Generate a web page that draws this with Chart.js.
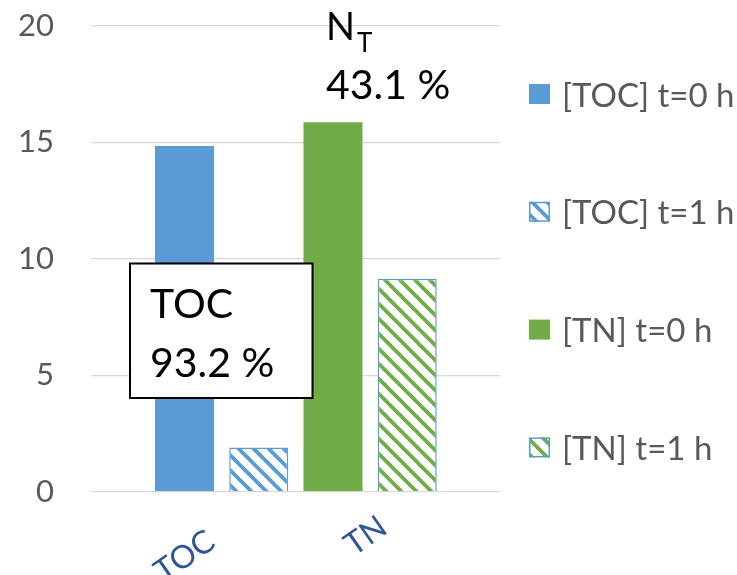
<!DOCTYPE html>
<html>
<head>
<meta charset="utf-8">
<script src="https://cdn.jsdelivr.net/npm/chart.js@4.4.1/dist/chart.umd.min.js"></script>
<style>
  html, body { margin: 0; padding: 0; background: #ffffff; }
  #wrap { width: 737px; height: 575px; position: relative; }
</style>
</head>
<body>
<div id="wrap"><canvas id="chart"></canvas></div>
<script>
// Categories shown on the x axis
const categories = ['TOC', 'TN'];
// One series per measurement, each drawn as its own bar slot
const seriesNames = ['[TOC] t=0 h', '[TOC] t=1 h', '[TN] t=0 h', '[TN] t=1 h'];
const seriesValues = [14.85, 1.9, 15.87, 9.15];
const seriesHatched = [false, true, false, true];
const seriesColors = ['#5B9BD5', '#5B9BD5', '#70AD47', '#70AD47'];
// Y axis tick values
const yTicks = [0, 5, 10, 15, 20];
// Removal annotations
const tocRemoval = { name: 'TOC', pct: '93.2 %' };
const tnRemoval = { name: 'N', sub: 'T', pct: '43.1 %' };

const FONT = 'Lato, "Open Sans", sans-serif';
const TEXT_GRAY = '#595959';
const EDGE_BLUE = '#5B9BD5';

// Diagonal stripe fill (top-left to bottom-right)
function hatch(color) {
  const s = 15;
  const cv = document.createElement('canvas');
  cv.width = s; cv.height = s;
  const g = cv.getContext('2d');
  g.fillStyle = '#ffffff';
  g.fillRect(0, 0, s, s);
  g.strokeStyle = color;
  g.lineWidth = 3.8;
  for (let k = -1; k <= 1; k++) {
    g.beginPath();
    g.moveTo(k * s - 3, -3);
    g.lineTo(k * s + s + 3, s + 3);
    g.stroke();
  }
  return g.createPattern(cv, 'repeat');
}

const fills = seriesColors.map((c, i) => seriesHatched[i] ? hatch(c) : c);

// Legend drawn in a right-hand column
const sideLegend = {
  id: 'sideLegend',
  afterDraw(chart) {
    const ctx = chart.ctx;
    const x0 = 529, firstY = 94, step = 117.8, bw = 21, bh = 20;
    ctx.save();
    chart.data.datasets.forEach((ds, i) => {
      const cy = firstY + i * step;
      ctx.fillStyle = ds.backgroundColor;
      ctx.fillRect(x0, cy - bh / 2, bw, bh);
      if (ds.borderWidth) {
        ctx.strokeStyle = ds.borderColor;
        ctx.lineWidth = 1.5;
        ctx.strokeRect(x0 + 0.75, cy - bh / 2 + 0.75, bw - 1.5, bh - 1.5);
      }
      ctx.fillStyle = TEXT_GRAY;
      ctx.font = '33px ' + FONT;
      ctx.textAlign = 'left';
      ctx.textBaseline = 'alphabetic';
      ctx.fillText(ds.label, 562, cy + 12.5);
    });
    ctx.restore();
  }
};

// Removal percentages written over the plot
const removalNotes = {
  id: 'removalNotes',
  afterDatasetsDraw(chart) {
    const ctx = chart.ctx;
    ctx.save();
    // boxed TOC note
    ctx.fillStyle = '#ffffff';
    ctx.fillRect(130, 263.5, 182.5, 134.5);
    ctx.strokeStyle = '#000000';
    ctx.lineWidth = 2;
    ctx.strokeRect(130, 263.5, 182.5, 134.5);
    ctx.fillStyle = '#000000';
    ctx.textAlign = 'left';
    ctx.textBaseline = 'alphabetic';
    ctx.font = '41px ' + FONT;
    ctx.fillText(tocRemoval.name, 150, 318);
    ctx.fillText(tocRemoval.pct, 150, 376.5);
    // N_T note
    ctx.font = '38px ' + FONT;
    ctx.fillText(tnRemoval.name, 326, 40);
    const nw = ctx.measureText(tnRemoval.name).width;
    ctx.font = '26px ' + FONT;
    ctx.fillText(tnRemoval.sub, 326 + nw + 2, 52);
    ctx.font = '41px ' + FONT;
    ctx.fillText(tnRemoval.pct, 326, 99);
    ctx.restore();
  }
};

new Chart(document.getElementById('chart'), {
  type: 'bar',
  data: {
    datasets: seriesNames.map((name, i) => ({
      label: name,
      data: [{ x: i, y: seriesValues[i] }],
      backgroundColor: fills[i],
      borderColor: seriesHatched[i] ? EDGE_BLUE : 'rgba(0,0,0,0)',
      borderWidth: seriesHatched[i] ? 1.5 : 0,
      grouped: false,
      categoryPercentage: 1,
      barPercentage: 0.795
    }))
  },
  options: {
    responsive: true,
    maintainAspectRatio: false,
    animation: false,
    events: [],
    layout: { padding: { top: 26, right: 237, left: 0, bottom: 0 } },
    plugins: {
      legend: { display: false },
      tooltip: { enabled: false }
    },
    scales: {
      x: {
        type: 'linear',
        min: -1.26,
        max: 4.25,
        offset: false,
        grid: { display: false },
        border: { display: false },
        afterBuildTicks(scale) {
          // one label under each pair of bars
          const at = [0.36, 2.68];
          scale.ticks = categories.map((c, i) => ({ value: at[i] }));
        },
        afterFit(scale) {
          scale.height = 83.3;
          scale.paddingLeft = 0;
          scale.paddingRight = 0;
        },
        ticks: {
          minRotation: 35,
          maxRotation: 35,
          padding: 8,
          color: '#2F5597',
          font: (ctx) => ({ family: FONT, size: 32, lineHeight: ctx.index === 0 ? 2.3 : 1.2 }),
          callback: (v, i) => categories[i]
        }
      },
      y: {
        min: 0,
        max: 20,
        afterBuildTicks(scale) {
          scale.ticks = yTicks.map(v => ({ value: v }));
        },
        afterFit(scale) {
          scale.width = 91;
          scale.paddingTop = 0;
          scale.paddingBottom = 0;
        },
        grid: { color: '#D9D9D9', lineWidth: 1.3, drawTicks: false },
        border: { display: false },
        ticks: {
          padding: 37,
          color: TEXT_GRAY,
          font: { family: FONT, size: 31 }
        }
      }
    }
  },
  plugins: [sideLegend, removalNotes]
});
</script>
</body>
</html>
